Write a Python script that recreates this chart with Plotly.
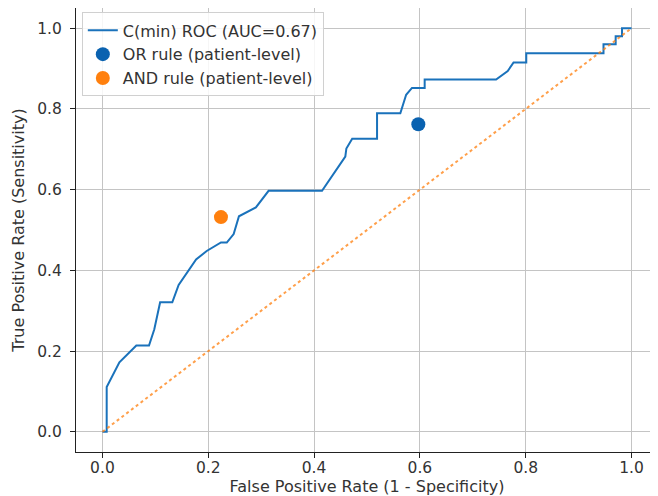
import plotly.graph_objects as go

fpr = [0, 0.008, 0.008, 0.032, 0.064, 0.088, 0.098, 0.109, 0.132, 0.144,
       0.177, 0.197, 0.224, 0.235, 0.248, 0.258, 0.29, 0.314, 0.415, 0.459,
       0.461, 0.472, 0.519, 0.519, 0.563, 0.574, 0.585, 0.609, 0.609, 0.744,
       0.766, 0.777, 0.801, 0.801, 0.947, 0.947, 0.970, 0.970, 0.982, 0.982, 1.0]
tpr = [0, 0, 0.111, 0.172, 0.214, 0.214, 0.254, 0.321, 0.321, 0.364,
       0.427, 0.448, 0.469, 0.469, 0.490, 0.534, 0.556, 0.597, 0.597, 0.682,
       0.702, 0.726, 0.726, 0.789, 0.789, 0.835, 0.852, 0.852, 0.873, 0.873,
       0.894, 0.915, 0.915, 0.938, 0.938, 0.960, 0.960, 0.980, 0.980, 1.0, 1.0]
auc = 0.67

or_point = (0.597, 0.762)
and_point = (0.224, 0.532)

chance_x = [0, 1]
chance_y = [0, 1]

tick_vals = [0.0, 0.2, 0.4, 0.6, 0.8, 1.0]
tick_text = ["0.0", "0.2", "0.4", "0.6", "0.8", "1.0"]

FONT = "DejaVu Sans"
TXT = "#333333"
FS = 16

fig = go.Figure()
fig.add_trace(go.Scatter(x=fpr, y=tpr, mode="lines",
                         line=dict(color="#1a72bb", width=2),
                         name=f"C(min) ROC (AUC={auc:.2f})"))
fig.add_trace(go.Scatter(x=[or_point[0]], y=[or_point[1]], mode="markers",
                         marker=dict(color="#0a62b0", size=14),
                         name="OR rule (patient-level)"))
fig.add_trace(go.Scatter(x=[and_point[0]], y=[and_point[1]], mode="markers",
                         marker=dict(color="#ff800e", size=14),
                         name="AND rule (patient-level)"))
fig.add_trace(go.Scatter(x=chance_x, y=chance_y, mode="lines",
                         line=dict(color="rgba(255,127,14,0.75)", width=2, dash="dot"),
                         showlegend=False))

axis_common = dict(
    tickvals=tick_vals, ticktext=tick_text,
    showgrid=True, gridcolor="#c4c4c4", gridwidth=1,
    zeroline=False, automargin=False,
    showline=True, mirror=True, linecolor="#222222", linewidth=1,
    ticks="outside", ticklen=5, tickcolor="#222222",
    tickfont=dict(family=FONT, size=15.5, color=TXT),
)

fig.update_xaxes(range=[-0.05, 1.05], ticklabelstandoff=-4,
                 title=dict(text="False Positive Rate (1 - Specificity)",
                            font=dict(family=FONT, size=FS, color=TXT), standoff=9),
                 **axis_common)
fig.update_yaxes(range=[-0.05, 1.05], ticklabelstandoff=5,
                 title=dict(text="True Positive Rate (Sensitivity)",
                            font=dict(family=FONT, size=FS, color=TXT), standoff=8),
                 **axis_common)

# page body adds an 8px offset, so the figure is sized to fill the rest of the window
fig.update_layout(
    width=650, height=488,
    margin=dict(l=68, r=0, t=0, b=44),
    plot_bgcolor="white", paper_bgcolor="white",
    font=dict(family=FONT, size=FS, color=TXT),
    legend=dict(x=0.01, y=0.99, xanchor="left", yanchor="top",
                bgcolor="rgba(255,255,255,0.85)", bordercolor="#d0d0d0", borderwidth=1,
                font=dict(family=FONT, size=FS, color=TXT)),
)

fig.write_html("out.html")
